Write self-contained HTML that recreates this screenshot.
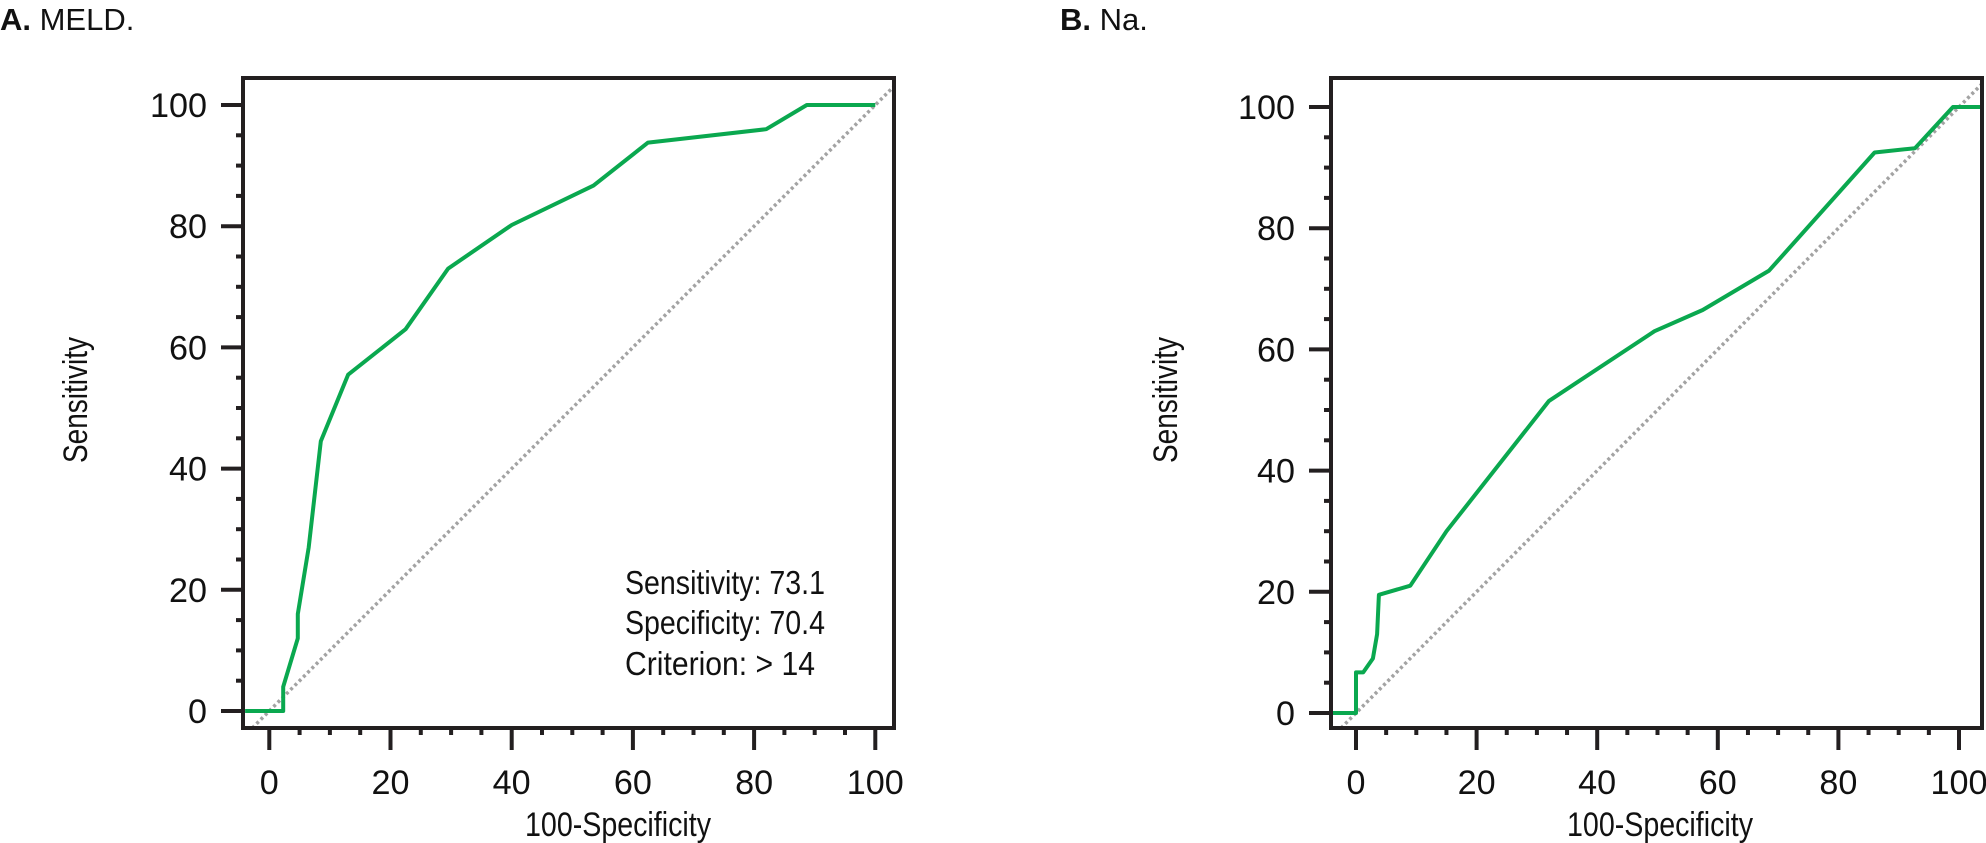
<!DOCTYPE html>
<html><head><meta charset="utf-8"><style>
html,body{margin:0;padding:0;background:#fff;}
svg{display:block;}
text{font-family:"Liberation Sans Narrow","Liberation Sans",sans-serif;fill:#111;}
</style></head><body>
<svg id="chart" width="1986" height="843" viewBox="0 0 1986 843" xmlns="http://www.w3.org/2000/svg">
<text x="0" y="30" font-size="31"><tspan font-weight="bold">A.</tspan> MELD.</text>
<text x="1060" y="30" font-size="31"><tspan font-weight="bold">B.</tspan> Na.</text>
<g id="pa"></g>
<g id="pb"></g>
<text x="625" y="594" font-size="33" textLength="200" lengthAdjust="spacingAndGlyphs">Sensitivity: 73.1</text>
<text x="625" y="634" font-size="33" textLength="200" lengthAdjust="spacingAndGlyphs">Specificity: 70.4</text>
<text x="625" y="675" font-size="33" textLength="190" lengthAdjust="spacingAndGlyphs">Criterion: &gt; 14</text>
</svg>
<script>
const ticks = [0, 20, 40, 60, 80, 100];
const tickLabels = ["0", "20", "40", "60", "80", "100"];
const meldFpr = [-4, 2.3, 2.3, 4.7, 4.7, 6.5, 8.5, 13, 22.5, 29.5, 40, 53.5, 62.5, 82, 88.7, 100];
const meldSens = [0, 0, 4, 12, 16, 27, 44.5, 55.5, 63, 73, 80.2, 86.7, 93.8, 96, 100, 100];
const naFpr = [-4.3, 0, 0, 1.2, 2.8, 3.5, 3.8, 9, 15, 32, 49.5, 57.5, 68.5, 86, 92.7, 99, 103.5];
const naSens = [0, 0, 6.7, 6.7, 9, 13, 19.5, 21, 30, 51.5, 63, 66.5, 73, 92.5, 93.2, 100, 100];

const NS = "http://www.w3.org/2000/svg";
function mk(tag, attrs, parent){const e=document.createElementNS(NS,tag);for(const k in attrs)e.setAttribute(k,attrs[k]);parent.appendChild(e);return e;}

function panel(g, box, x0, ux, y0, uy, fx, sy, name, titleX, yTitleX){
  const X=v=>x0+ux*v, Y=v=>y0-uy*v;
  const vmin=Math.max((box.l-x0)/ux,(y0-box.b)/uy), vmax=Math.min((box.r-x0)/ux,(y0-box.t)/uy);
  const d=mk('line',{x1:X(vmin),y1:Y(vmin),x2:X(vmax),y2:Y(vmax),stroke:'#a3a3a3','stroke-width':3.5,'stroke-dasharray':'3 3'},g);
  
  
  const pts=fx.map((v,i)=>X(v).toFixed(1)+','+Y(sy[i]).toFixed(1)).join(' ');
  const c=mk('polyline',{points:pts,fill:'none',stroke:'#0aa84f','stroke-width':4,'stroke-linejoin':'round'},g);
  
  
  const r=mk('rect',{x:box.l,y:box.t,width:box.r-box.l,height:box.b-box.t,fill:'none',stroke:'#231f20','stroke-width':4},g);
  
  
  for(let v=0; v<=100; v+=5){
    const major=v%20===0;
    const ty=mk('line',{x1:box.l-(major?22:7),x2:box.l,y1:Y(v),y2:Y(v),stroke:'#231f20','stroke-width':4},g);
    
    
    const tx=mk('line',{y1:box.b,y2:box.b+(major?22:7),x1:X(v),x2:X(v),stroke:'#231f20','stroke-width':4},g);
    
    
  }
  ticks.forEach((v,i)=>{
    const L=tickLabels[i].length*19;
    const ly=mk('text',{x:box.l-36,y:Y(v)+12,'text-anchor':'end','font-size':34,textLength:L,lengthAdjust:'spacingAndGlyphs'},g);
    ly.textContent=tickLabels[i];
    
    
    const lx=mk('text',{x:X(v),y:794,'text-anchor':'middle','font-size':34,textLength:L,lengthAdjust:'spacingAndGlyphs'},g);
    lx.textContent=tickLabels[i];
    
    
  });
  const xt=mk('text',{x:titleX,y:836,'text-anchor':'middle','font-size':34,textLength:186,lengthAdjust:'spacingAndGlyphs'},g);
  xt.textContent='100-Specificity';
  
  
  const yt=mk('text',{x:0,y:0,'text-anchor':'middle','font-size':34,textLength:126,lengthAdjust:'spacingAndGlyphs',transform:`translate(${yTitleX},400) rotate(-90)`},g);
  yt.textContent='Sensitivity';
  
  
}
panel(document.getElementById('pa'),{l:243,r:894,t:78,b:728},269.3,6.06,711,6.06,meldFpr,meldSens,'meld',618,87);
panel(document.getElementById('pb'),{l:1331,r:1982,t:78,b:728},1356,6.03,713,6.06,naFpr,naSens,'na',1660,1177);
</script>
</body></html>
